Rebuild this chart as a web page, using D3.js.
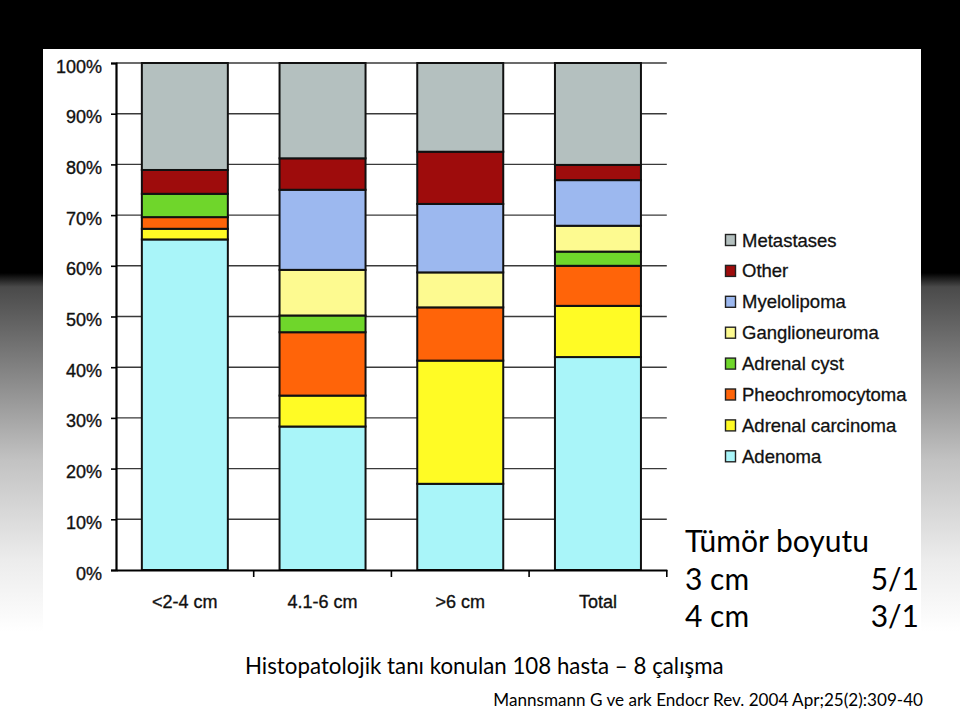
<!DOCTYPE html>
<html><head><meta charset="utf-8">
<script src="https://cdn.jsdelivr.net/npm/d3@7"></script>
<style>
html,body{margin:0;padding:0;background:#fff;}
svg{display:block;}
</style></head>
<body>
<svg id="chart" width="960" height="710"></svg>
<script>
const categories = ["<2-4 cm", "4.1-6 cm", ">6 cm", "Total"];
const seriesNames = ["Adenoma", "Adrenal carcinoma", "Pheochromocytoma", "Adrenal cyst", "Ganglioneuroma", "Myelolipoma", "Other", "Metastases"];
const adenoma     = [65.2, 28.3, 17.0, 42.0];
const carcinoma   = [2.1, 6.1, 24.3, 10.1];
const pheo        = [2.3, 12.5, 10.5, 7.9];
const cyst        = [4.6, 3.3, 0, 2.8];
const gangl       = [0, 9.0, 6.9, 5.1];
const myelo       = [0, 15.8, 13.5, 9.0];
const other       = [4.7, 6.2, 10.3, 3.0];
const metastases  = [21.1, 18.8, 17.5, 20.1];
const seriesColors = ["#a9f5f9", "#fffb25", "#ff6409", "#6fd62b", "#fdfa90", "#9cb8ef", "#9e0c0c", "#b4c0bf"];
const yTicks = [0, 10, 20, 30, 40, 50, 60, 70, 80, 90, 100];
const titleLines = ["Tümör boyutu"];
const ratioLabels = ["3 cm", "4 cm"];
const ratioValues = ["5/1", "3/1"];
const caption = "Histopatolojik tanı konulan 108 hasta – 8 çalışma";
const source = "Mannsmann G ve ark Endocr Rev. 2004 Apr;25(2):309-40";

const seriesValues = [adenoma, carcinoma, pheo, cyst, gangl, myelo, other, metastases];
const table = categories.map((c, i) => {
  const row = {cat: c};
  seriesNames.forEach((s, j) => row[s] = seriesValues[j][i]);
  return row;
});

const svg = d3.select("#chart");
const af = "'Liberation Sans', Arial, sans-serif";

// slide background
const defs = svg.append("defs");
const grad = defs.append("linearGradient").attr("id", "bg")
  .attr("gradientUnits", "userSpaceOnUse").attr("x1", 0).attr("y1", 0).attr("x2", 0).attr("y2", 710);
[[0, "#000"], [273, "#000"], [287, "#4a4a4a"], [380, "#8a8a8a"], [460, "#c2c2c2"], [560, "#ececec"], [632, "#fff"], [710, "#fff"]]
  .forEach(([yy, c]) => grad.append("stop").attr("offset", yy / 710).attr("stop-color", c));
svg.append("rect").attr("width", 960).attr("height", 710).attr("fill", "url(#bg)");
svg.append("rect").attr("x", 43).attr("y", 49).attr("width", 878).attr("height", 611).attr("fill", "#fff");

const x = d3.scaleBand().domain(categories).range([116, 666.8]).paddingInner(0.3755).paddingOuter(0.3755 / 2);
const y = d3.scaleLinear().domain([0, 100]).range([570, 63]);
const color = d3.scaleOrdinal().domain(seriesNames).range(seriesColors);

// gridlines
svg.append("g").selectAll("line").data(yTicks.filter(t => t > 0)).join("line")
  .attr("x1", 116).attr("x2", 666.8).attr("y1", d => y(d)).attr("y2", d => y(d))
  .attr("stroke", "#3a3a3a").attr("stroke-width", 1.4);

// stacked bars
const stack = d3.stack().keys(seriesNames)(table);
const g = svg.append("g");
stack.forEach(layer => {
  g.append("g").selectAll("rect").data(layer.filter(d => d[1] - d[0] > 0)).join("rect")
    .attr("x", d => x(d.data.cat))
    .attr("width", x.bandwidth())
    .attr("y", d => y(d[1]))
    .attr("height", d => y(d[0]) - y(d[1]))
    .attr("fill", color(layer.key))
    .attr("stroke", "#111").attr("stroke-width", 2);
});

// y axis
const yAxis = svg.append("g").attr("transform", "translate(116,0)")
  .call(d3.axisLeft(y).tickValues(yTicks).tickFormat(d => d + "%").tickSize(5).tickPadding(9));
yAxis.select(".domain").attr("stroke", "#000").attr("stroke-width", 2.2);
yAxis.selectAll(".tick line").attr("stroke", "#000").attr("stroke-width", 1.6);
yAxis.selectAll(".tick text").attr("font-family", af).attr("font-size", 18).attr("fill", "#111")
  .attr("dy", "0.5em").attr("stroke", "#111").attr("stroke-width", 0.35);

// x axis
const xAxis = svg.append("g").attr("transform", "translate(0,570)")
  .call(d3.axisBottom(x).tickSize(0).tickPadding(25));
xAxis.select(".domain").attr("stroke", "#000").attr("stroke-width", 2.2);
xAxis.selectAll(".tick text").attr("font-family", af).attr("font-size", 18).attr("fill", "#111")
  .attr("stroke", "#111").attr("stroke-width", 0.35);
const bounds = categories.map(c => x(c) - x.step() * x.paddingInner() / 2).concat([x.range()[1]]);
svg.append("g").selectAll("line").data(bounds.slice(1)).join("line")
  .attr("x1", d => d).attr("x2", d => d).attr("y1", 570).attr("y2", 577)
  .attr("stroke", "#000").attr("stroke-width", 1.6);

// legend
const legendOrder = seriesNames.slice().reverse();
const lg = svg.append("g").attr("transform", "translate(725,240)");
legendOrder.forEach((s, i) => {
  const row = lg.append("g").attr("transform", `translate(0,${i * 30.9})`);
  row.append("rect").attr("x", 0.5).attr("y", -5.5).attr("width", 10).attr("height", 11)
    .attr("fill", color(s)).attr("stroke", "#222").attr("stroke-width", 1.4);
  row.append("text").attr("x", 17).attr("y", 6.5).text(s)
    .attr("font-family", af).attr("font-size", 18.5).attr("fill", "#111")
    .attr("stroke", "#111").attr("stroke-width", 0.3);
});

// slide texts
const ff = "Lato, Carlito, Calibri, sans-serif";
svg.append("text").attr("x", 685).attr("y", 552).text(titleLines[0])
  .attr("font-family", ff).attr("font-size", 30).attr("fill", "#000");
ratioLabels.forEach((t, i) => {
  svg.append("text").attr("x", 685).attr("y", 590 + i * 37).text(t)
    .attr("font-family", ff).attr("font-size", 30).attr("fill", "#000");
  svg.append("text").attr("x", 919).attr("y", 590 + i * 37).attr("text-anchor", "end").text(ratioValues[i])
    .attr("font-family", ff).attr("font-size", 30).attr("fill", "#000");
});
svg.append("text").attr("x", 245).attr("y", 674).text(caption)
  .attr("font-family", ff).attr("font-size", 22.3).attr("fill", "#000");
svg.append("text").attr("x", 923).attr("y", 706).attr("text-anchor", "end").text(source)
  .attr("font-family", ff).attr("font-size", 17.1).attr("fill", "#000");
</script>
</body></html>
